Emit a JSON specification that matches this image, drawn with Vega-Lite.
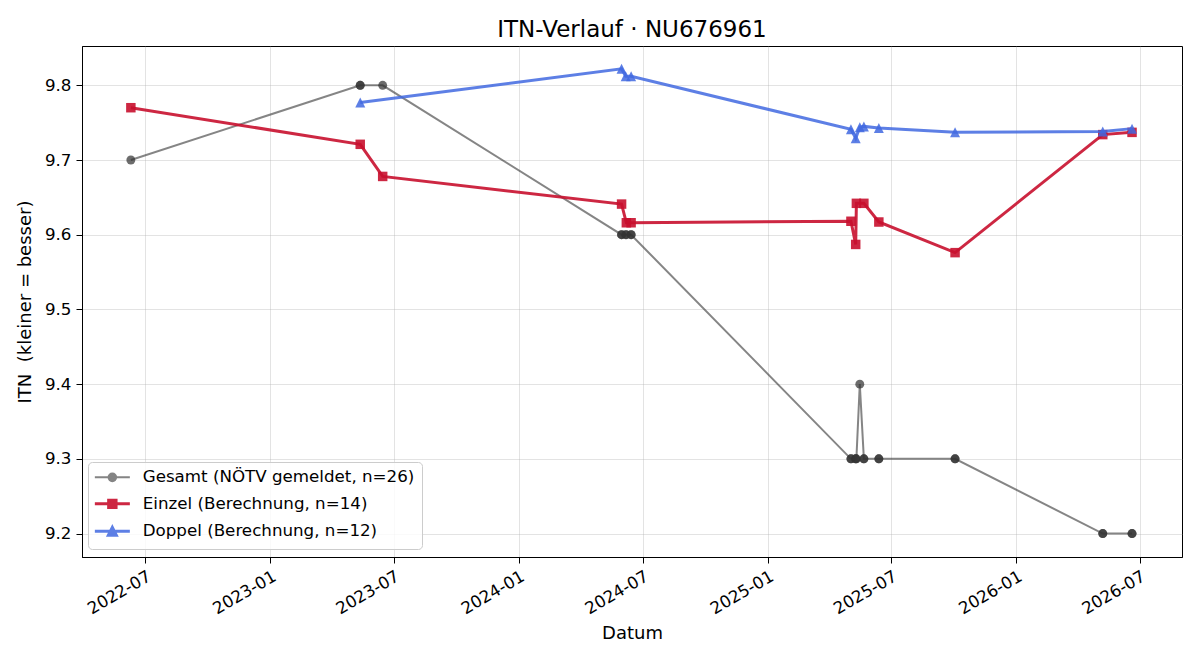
{
  "$schema": "https://vega.github.io/schema/vega-lite/v6.json",
  "width": 1100,
  "height": 511,
  "autosize": {"type": "none"},
  "padding": {"left": 82, "top": 46, "right": 18, "bottom": 103},
  "background": "white",
  "title": {
    "text": "ITN-Verlauf · NU676961",
    "font": "DejaVu Sans",
    "fontSize": 23,
    "fontWeight": "normal",
    "color": "black",
    "anchor": "middle",
    "offset": 4
  },
  "config": {
    "font": "DejaVu Sans",
    "view": {"stroke": "black", "strokeWidth": 1},
    "axis": {
      "domainColor": "black",
      "tickColor": "black",
      "tickSize": 6,
      "labelColor": "black",
      "labelFont": "DejaVu Sans",
      "labelFontSize": 16.7,
      "labelPadding": 5,
      "titleColor": "black",
      "titleFont": "DejaVu Sans",
      "titleFontSize": 18,
      "titleFontWeight": "normal",
      "gridColor": "#b0b0b0",
      "gridOpacity": 0.35,
      "gridWidth": 1,
      "labelFlush": false,
      "labelOverlap": false
    }
  },
  "datasets": {
    "itn": [
      {"serie": "Gesamt", "datum": "2022-06-10", "itn": 9.7},
      {"serie": "Gesamt", "datum": "2023-05-13", "itn": 9.8},
      {"serie": "Gesamt", "datum": "2023-05-13", "itn": 9.8},
      {"serie": "Gesamt", "datum": "2023-06-15", "itn": 9.8},
      {"serie": "Gesamt", "datum": "2024-05-31", "itn": 9.6},
      {"serie": "Gesamt", "datum": "2024-05-31", "itn": 9.6},
      {"serie": "Gesamt", "datum": "2024-06-06", "itn": 9.6},
      {"serie": "Gesamt", "datum": "2024-06-07", "itn": 9.6},
      {"serie": "Gesamt", "datum": "2024-06-14", "itn": 9.6},
      {"serie": "Gesamt", "datum": "2024-06-14", "itn": 9.6},
      {"serie": "Gesamt", "datum": "2025-05-03", "itn": 9.3},
      {"serie": "Gesamt", "datum": "2025-05-03", "itn": 9.3},
      {"serie": "Gesamt", "datum": "2025-05-10", "itn": 9.3},
      {"serie": "Gesamt", "datum": "2025-05-10", "itn": 9.3},
      {"serie": "Gesamt", "datum": "2025-05-11", "itn": 9.3},
      {"serie": "Gesamt", "datum": "2025-05-16", "itn": 9.4},
      {"serie": "Gesamt", "datum": "2025-05-22", "itn": 9.3},
      {"serie": "Gesamt", "datum": "2025-05-22", "itn": 9.3},
      {"serie": "Gesamt", "datum": "2025-06-13", "itn": 9.3},
      {"serie": "Gesamt", "datum": "2025-06-13", "itn": 9.3},
      {"serie": "Gesamt", "datum": "2025-10-03", "itn": 9.3},
      {"serie": "Gesamt", "datum": "2025-10-03", "itn": 9.3},
      {"serie": "Gesamt", "datum": "2026-05-08", "itn": 9.2},
      {"serie": "Gesamt", "datum": "2026-05-08", "itn": 9.2},
      {"serie": "Gesamt", "datum": "2026-06-20", "itn": 9.2},
      {"serie": "Gesamt", "datum": "2026-06-20", "itn": 9.2},

      {"serie": "Einzel", "datum": "2022-06-10", "itn": 9.770},
      {"serie": "Einzel", "datum": "2023-05-13", "itn": 9.721},
      {"serie": "Einzel", "datum": "2023-06-15", "itn": 9.678},
      {"serie": "Einzel", "datum": "2024-05-31", "itn": 9.641},
      {"serie": "Einzel", "datum": "2024-06-07", "itn": 9.616},
      {"serie": "Einzel", "datum": "2024-06-14", "itn": 9.616},
      {"serie": "Einzel", "datum": "2025-05-03", "itn": 9.618},
      {"serie": "Einzel", "datum": "2025-05-10", "itn": 9.587},
      {"serie": "Einzel", "datum": "2025-05-11", "itn": 9.642},
      {"serie": "Einzel", "datum": "2025-05-22", "itn": 9.642},
      {"serie": "Einzel", "datum": "2025-06-13", "itn": 9.617},
      {"serie": "Einzel", "datum": "2025-10-03", "itn": 9.576},
      {"serie": "Einzel", "datum": "2026-05-08", "itn": 9.734},
      {"serie": "Einzel", "datum": "2026-06-20", "itn": 9.737},

      {"serie": "Doppel", "datum": "2023-05-13", "itn": 9.777},
      {"serie": "Doppel", "datum": "2024-05-31", "itn": 9.822},
      {"serie": "Doppel", "datum": "2024-06-06", "itn": 9.812},
      {"serie": "Doppel", "datum": "2024-06-14", "itn": 9.812},
      {"serie": "Doppel", "datum": "2025-05-03", "itn": 9.741},
      {"serie": "Doppel", "datum": "2025-05-10", "itn": 9.729},
      {"serie": "Doppel", "datum": "2025-05-16", "itn": 9.744},
      {"serie": "Doppel", "datum": "2025-05-22", "itn": 9.745},
      {"serie": "Doppel", "datum": "2025-06-13", "itn": 9.743},
      {"serie": "Doppel", "datum": "2025-10-03", "itn": 9.737},
      {"serie": "Doppel", "datum": "2026-05-08", "itn": 9.738},
      {"serie": "Doppel", "datum": "2026-06-20", "itn": 9.742}
    ]
  },
  "data": {"name": "itn"},
  "encoding": {
    "x": {
      "field": "datum",
      "type": "temporal",
      "title": "Datum",
      "scale": {
        "type": "utc",
        "domain": [
          {"year": 2022, "month": 3, "date": 30, "hours": 5, "utc": true},
          {"year": 2026, "month": 9, "date": 1, "hours": 10, "utc": true}
        ]
      },
      "axis": {
        "values": [
          {"year": 2022, "month": 7, "date": 1, "utc": true},
          {"year": 2023, "month": 1, "date": 1, "utc": true},
          {"year": 2023, "month": 7, "date": 1, "utc": true},
          {"year": 2024, "month": 1, "date": 1, "utc": true},
          {"year": 2024, "month": 7, "date": 1, "utc": true},
          {"year": 2025, "month": 1, "date": 1, "utc": true},
          {"year": 2025, "month": 7, "date": 1, "utc": true},
          {"year": 2026, "month": 1, "date": 1, "utc": true},
          {"year": 2026, "month": 7, "date": 1, "utc": true}
        ],
        "format": "%Y-%m",
        "labelAngle": -30,
        "labelAlign": "right",
        "labelBaseline": "top",
        "titlePadding": 7
      }
    },
    "y": {
      "field": "itn",
      "type": "quantitative",
      "title": "ITN\u00a0 (kleiner = besser)",
      "scale": {"domain": [9.1686, 9.8526], "zero": false, "nice": false},
      "axis": {
        "values": [9.2, 9.3, 9.4, 9.5, 9.6, 9.7, 9.8],
        "format": ".1f",
        "titlePadding": 10
      }
    },
    "color": {
      "field": "serie",
      "type": "nominal",
      "scale": {
        "domain": ["Gesamt", "Einzel", "Doppel"],
        "range": ["#333333", "#c8102e", "#4169e1"]
      },
      "legend": {
        "title": null,
        "orient": "none",
        "legendX": 6,
        "legendY": 416,
        "padding": 7,
        "fillColor": "rgba(255,255,255,0.8)",
        "strokeColor": "#cccccc",
        "cornerRadius": 4,
        "labelFont": "DejaVu Sans",
        "labelFontSize": 16.7,
        "labelColor": "black",
        "labelLimit": 0,
        "labelOffset": 22,
        "symbolOffset": 9,
        "symbolSize": 400,
        "rowPadding": 6.5,
        "symbolType": {"expr": "datum.value === 'Gesamt' ? 'M-1.75,0H1.75M-0.38,0A0.38,0.38,0,1,1,0.38,0A0.38,0.38,0,1,1,-0.38,0Z' : datum.value === 'Einzel' ? 'M-1.75,0H1.75M-0.37,-0.37H0.37V0.37H-0.37Z' : 'M-1.75,0H1.75M0,-0.4L0.4,0.4L-0.4,0.4Z'"},
        "symbolStrokeWidth": {"expr": "datum.value === 'Gesamt' ? 2 : 3"},
        "symbolOpacity": {"expr": "datum.value === 'Gesamt' ? 0.6 : datum.value === 'Einzel' ? 0.9 : 0.85"},
        "labelExpr": "datum.label === 'Gesamt' ? 'Gesamt (NÖTV gemeldet, n=26)' : datum.label === 'Einzel' ? 'Einzel (Berechnung, n=14)' : 'Doppel (Berechnung, n=12)'"
      }
    }
  },
  "layer": [
    {
      "transform": [{"filter": {"field": "serie", "equal": "Gesamt"}}],
      "mark": {"type": "line", "strokeWidth": 2, "opacity": 0.6}
    },
    {
      "transform": [{"filter": {"field": "serie", "equal": "Gesamt"}}],
      "mark": {"type": "point", "filled": true, "shape": "circle", "size": 80, "opacity": 0.72}
    },
    {
      "transform": [{"filter": {"field": "serie", "equal": "Einzel"}}],
      "mark": {"type": "line", "strokeWidth": 3, "opacity": 0.9}
    },
    {
      "transform": [{"filter": {"field": "serie", "equal": "Einzel"}}],
      "mark": {"type": "point", "filled": true, "shape": "square", "size": 90, "opacity": 0.9}
    },
    {
      "transform": [{"filter": {"field": "serie", "equal": "Doppel"}}],
      "mark": {"type": "line", "strokeWidth": 3, "opacity": 0.85}
    },
    {
      "transform": [{"filter": {"field": "serie", "equal": "Doppel"}}],
      "mark": {"type": "point", "filled": true, "shape": "M0,-1L1,1L-1,1Z", "size": 100, "opacity": 0.85}
    }
  ]
}
